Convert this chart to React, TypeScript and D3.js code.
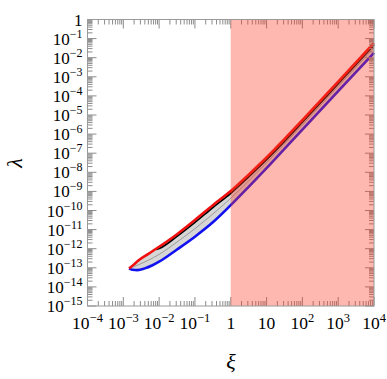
import * as d3 from "d3";

// log10 of xi and lambda
const redLogXi = [-2.84, -2.7, -2.58, -2.3, -2.0, -1.5, -1.0, -0.5, 0, 0.5, 1, 1.5, 2, 3, 4];
const redLogLam = [-13.04, -12.82, -12.62, -12.27, -11.9, -11.24, -10.5, -9.72, -8.98, -8.12, -7.22, -6.26, -5.27, -3.25, -1.23];

const blueLogXi = [-2.84, -2.75, -2.6, -2.4, -2.2, -2.0, -1.5, -1.0, -0.5, 0, 0.5, 1, 1.5, 2, 3, 4];
const blueLogLam = [-13.04, -13.1, -13.12, -13.03, -12.88, -12.68, -12.04, -11.37, -10.62, -9.72, -8.76, -7.78, -6.77, -5.76, -3.75, -1.75];

const blackLogXi = [-2.08, -2.0, -1.5, -1.0, -0.5, 0, 0.5, 1, 1.5, 2, 3, 4];
const blackLogLam = [-12.04, -11.99, -11.35, -10.62, -9.84, -9.1, -8.24, -7.34, -6.38, -5.38, -3.36, -1.34];

const midLogXi = [-2.84, -2.6, -2.3, -2.0, -1.5, -1.0, -0.5, 0, 0.5, 1, 1.5, 2, 3, 4];
const midLogLam = [-13.04, -12.86, -12.6, -12.3, -11.65, -10.95, -10.18, -9.36, -8.45, -7.5, -6.52, -5.52, -3.5, -1.49];

const xDecades = [-4, -3, -2, -1, 0, 1, 2, 3, 4];
const yDecades = d3.range(-15, 1);

const shadeFrom = 1;
const shadeTo = 1e4;

const W = 387;
const H = 379;
const margin = { left: 87.5, right: 13, top: 19.5, bottom: 73 };

const toPts = (lx: number[], ly: number[]) => lx.map((v, i) => [Math.pow(10, v), Math.pow(10, ly[i])] as [number, number]);

function supLabel(k: number) {
  if (k === 0) return { base: "1", sup: "" };
  if (k === 1) return { base: "10", sup: "" };
  return { base: "10", sup: k < 0 ? "\u2212" + -k : String(k) };
}

export default function App() {
  const x = d3.scaleLog().domain([1e-4, 1e4]).range([margin.left, W - margin.right]);
  const y = d3.scaleLog().domain([1e-15, 1]).range([H - margin.bottom, margin.top]);
  const [x0, x1] = x.range();
  const [y0, y1] = y.range();

  const red = toPts(redLogXi, redLogLam);
  const blue = toPts(blueLogXi, blueLogLam);
  const black = toPts(blackLogXi, blackLogLam);
  const mid = toPts(midLogXi, midLogLam);

  const line = d3
    .line<[number, number]>()
    .x((d) => x(d[0]))
    .y((d) => y(d[1]))
    .curve(d3.curveMonotoneX);

  const bandPath = line(red) + "L" + line(blue)!.slice(1).split("").join("");
  const area = d3
    .line<[number, number]>()
    .x((d) => x(d[0]))
    .y((d) => y(d[1]))
    .curve(d3.curveLinearClosed);
  // sample both smooth edges for the grey band
  const sample = (pts: [number, number][]) => {
    const out: [number, number][] = [];
    const lx = pts.map((p) => Math.log10(p[0]));
    const ly = pts.map((p) => Math.log10(p[1]));
    const f = d3.scaleLinear().domain(lx).range(ly);
    d3.range(lx[0], lx[lx.length - 1] + 1e-9, 0.02).forEach((v) => out.push([Math.pow(10, v), Math.pow(10, f(v))]));
    return out;
  };
  void bandPath;
  const bandPts = [...sample(red), ...sample(blue).reverse()];

  const xMinor: number[] = [];
  xDecades.slice(0, -1).forEach((k) => d3.range(2, 10).forEach((m) => xMinor.push(m * Math.pow(10, k))));
  const yMinor: number[] = [];
  yDecades.slice(0, -1).forEach((k) => d3.range(2, 10).forEach((m) => yMinor.push(m * Math.pow(10, k))));

  const tickCol = "#8c8c8c";
  const major = 9;
  const minor = 5;
  const font = "'Liberation Serif', 'DejaVu Serif', serif";

  return (
    <svg width={W} height={H} style={{ position: "absolute", left: 0, top: 0 }} fontFamily={font}>
      <rect x={0} y={0} width={W} height={H} fill="white" />

      {/* curves */}
      <path d={area(bandPts)!} fill="#d6d6d6" stroke="none" />
      <path d={line(mid)!} fill="none" stroke="#8a8a8a" strokeWidth={0.8} />
      <path d={line(black)!} fill="none" stroke="#000" strokeWidth={1.8} />
      <path d={line(blue)!} fill="none" stroke="#1010f0" strokeWidth={2.6} />
      <path d={line(red)!} fill="none" stroke="#f01010" strokeWidth={2.6} />

      {/* ticks on all sides */}
      <g stroke={tickCol} strokeWidth={1}>
        {xDecades.map((k) => {
          const px = x(Math.pow(10, k));
          return (
            <g key={"xm" + k}>
              <line x1={px} x2={px} y1={y0} y2={y0 - major} />
              <line x1={px} x2={px} y1={y1} y2={y1 + major} />
            </g>
          );
        })}
        {xMinor.map((v, i) => {
          const px = x(v);
          return (
            <g key={"xn" + i}>
              <line x1={px} x2={px} y1={y0} y2={y0 - minor} />
              <line x1={px} x2={px} y1={y1} y2={y1 + minor} />
            </g>
          );
        })}
        {yDecades.map((k) => {
          const py = y(Math.pow(10, k));
          return (
            <g key={"ym" + k}>
              <line x1={x0} x2={x0 + major} y1={py} y2={py} />
              <line x1={x1} x2={x1 - major} y1={py} y2={py} />
            </g>
          );
        })}
        {yMinor.map((v, i) => {
          const py = y(v);
          return (
            <g key={"yn" + i}>
              <line x1={x0} x2={x0 + minor} y1={py} y2={py} />
              <line x1={x1} x2={x1 - minor} y1={py} y2={py} />
            </g>
          );
        })}
      </g>

      {/* shaded region */}
      <rect
        x={x(shadeFrom)}
        y={y1}
        width={x(shadeTo) - x(shadeFrom)}
        height={y0 - y1}
        fill="#ff3a20"
        fillOpacity={0.36}
      />

      {/* frame */}
      <rect x={x0} y={y1} width={x1 - x0} height={y0 - y1} fill="none" stroke="#9a9a9a" strokeWidth={1} />

      {/* y tick labels */}
      {yDecades.map((k) => {
        const l = supLabel(k);
        return (
          <text key={"yl" + k} x={x0 - 5} y={y(Math.pow(10, k)) + 6} textAnchor="end" fontSize={17} fill="#000">
            {l.base}
            {l.sup && (
              <tspan fontSize={12} dy={-7}>
                {l.sup}
              </tspan>
            )}
          </text>
        );
      })}

      {/* x tick labels */}
      {xDecades.map((k) => {
        const l = supLabel(k);
        return (
          <text key={"xl" + k} x={x(Math.pow(10, k))} y={329} textAnchor="middle" fontSize={17.5} fill="#000">
            {l.base}
            {l.sup && (
              <tspan fontSize={12.5} dy={-7.5}>
                {l.sup}
              </tspan>
            )}
          </text>
        );
      })}

      {/* axis titles */}
      <text x={231} y={369} textAnchor="middle" fontSize={22} fontStyle="italic" fill="#000">
        ξ
      </text>
      <text
        transform={`translate(22,163) rotate(-90)`}
        textAnchor="middle"
        fontSize={22}
        fontStyle="italic"
        fill="#000"
      >
        λ
      </text>
    </svg>
  );
}
